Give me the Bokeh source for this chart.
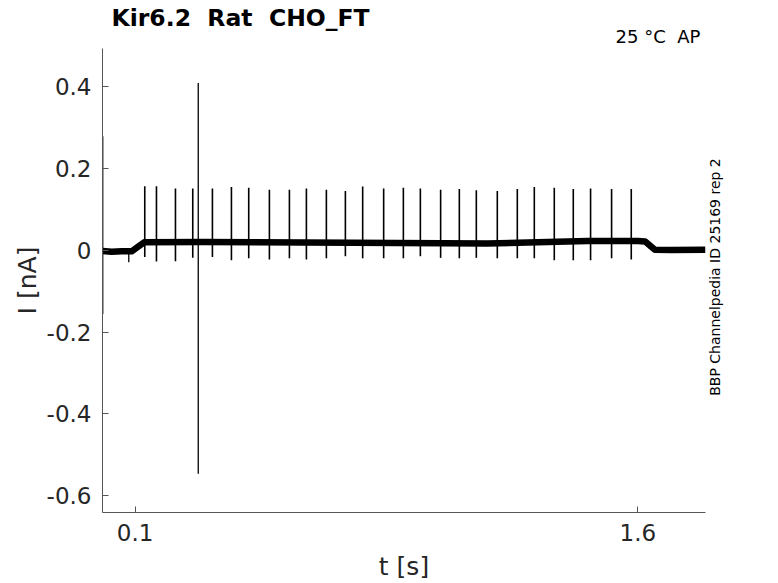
import numpy as np
from bokeh.plotting import figure
from bokeh.layouts import column, row
from bokeh.models import Range1d, Label, FixedTicker, CustomJSTickFormatter
from bokeh.embed import file_html
from bokeh.resources import INLINE

# ---------------- data ----------------
title_text = "Kir6.2 \u00a0Rat \u00a0CHO_FT"
cond_text = "25 °C \u00a0AP"
source_text = "BBP Channelpedia ID 25169 rep 2"
x_label = "t [s]"
y_label = "I [nA]"
x_ticks = [0.1, 1.6]
y_ticks = [-0.6, -0.4, -0.2, 0.0, 0.2, 0.4]

# holding-current baseline (centre of the noise band), time in s, current in nA
base_t = [0.003, 0.03, 0.06, 0.09, 0.105, 0.127, 0.30, 0.75, 1.15, 1.45, 1.60, 1.622, 1.651, 1.70, 1.802]
base_i = [-0.002, -0.004, -0.003, -0.003, 0.006, 0.019, 0.020, 0.018, 0.016, 0.022, 0.022, 0.021, 0.001, 0.000, 0.001]

# action-potential-clamp spikes: time, peak, trough
spike_t = [0.1289, 0.1638, 0.2205, 0.2721, 0.3308, 0.3875, 0.4391, 0.5008, 0.5605,
           0.6112, 0.6708, 0.7275, 0.7791, 0.8417, 0.9005, 0.9512, 1.0117, 1.0675,
           1.1182, 1.1808, 1.2405, 1.2912, 1.3508, 1.4075, 1.4591, 1.5218, 1.5805]
spike_hi = [0.156, 0.156, 0.150, 0.150, 0.150, 0.154, 0.152, 0.147, 0.147,
            0.150, 0.147, 0.144, 0.155, 0.150, 0.152, 0.150, 0.147, 0.149,
            0.146, 0.144, 0.149, 0.154, 0.152, 0.149, 0.150, 0.149, 0.149]
spike_lo = [-0.017, -0.028, -0.027, -0.019, -0.017, -0.025, -0.020, -0.023, -0.020,
            -0.023, -0.020, -0.015, -0.020, -0.020, -0.020, -0.015, -0.019, -0.020,
            -0.019, -0.020, -0.020, -0.020, -0.025, -0.025, -0.025, -0.020, -0.023]

# transients / artefacts: time, top, bottom
art_t = [0.0035, 0.0812, 0.2885]
art_hi = [0.278, -0.002, 0.408]
art_lo = [-0.156, -0.030, -0.546]

x_start, x_end = 0.0028, 1.802
y_start, y_end = -0.6405, 0.492

# ---------------- layout sizes ----------------
FONT = "DejaVu Sans"
TXT = "#262626"
W, H = 778, 583
HEAD_H = 48
MAIN_W = 708
MAIN_H = H - HEAD_H
SIDE_W = W - MAIN_W


def blank(width, height):
    f = figure(width=width, height=height, output_backend="svg", toolbar_location=None,
               x_axis_location=None, y_axis_location=None,
               x_range=Range1d(0, 1), y_range=Range1d(0, 1), min_border=0)
    f.outline_line_color = None
    f.grid.visible = False
    f.background_fill_color = "white"
    f.border_fill_color = "white"
    return f


# ---------------- header with the titles ----------------
head = blank(W, HEAD_H)
head.add_layout(Label(x=111, y=30.5, x_units="screen", y_units="screen",
                      text=title_text, text_font=FONT, text_font_size="23.5px",
                      text_font_style="bold", text_color="black",
                      text_align="left", text_baseline="alphabetic"))
head.add_layout(Label(x=615, y=12.3, x_units="screen", y_units="screen",
                      text=cond_text, text_font=FONT, text_font_size="18px",
                      text_color="black", text_align="left", text_baseline="alphabetic"))

# ---------------- main plot ----------------
p = figure(width=MAIN_W, height=MAIN_H, output_backend="svg", toolbar_location=None,
           x_range=Range1d(x_start, x_end), y_range=Range1d(y_start, y_end),
           min_border_left=102, min_border_right=3, min_border_top=0, min_border_bottom=71)
p.title = None
p.outline_line_color = None
p.grid.visible = False
p.background_fill_color = "white"
p.border_fill_color = "white"

for ax in (p.xaxis[0], p.yaxis[0]):
    ax.axis_line_color = "#555555"
    ax.axis_line_width = 1
    ax.major_tick_line_color = "#555555"
    ax.major_tick_in = 6
    ax.major_tick_out = 0
    ax.minor_tick_line_color = None
    ax.major_label_text_font = FONT
    ax.major_label_text_font_size = "23px"
    ax.major_label_text_color = TXT
    ax.axis_label_text_font = FONT
    ax.axis_label_text_font_size = "25px"
    ax.axis_label_text_font_style = "normal"
    ax.axis_label_text_color = TXT

p.xaxis[0].ticker = FixedTicker(ticks=x_ticks)
p.yaxis[0].ticker = FixedTicker(ticks=y_ticks)
p.xaxis[0].formatter = CustomJSTickFormatter(code="return tick.toFixed(1);")
p.yaxis[0].formatter = CustomJSTickFormatter(
    code="return Math.abs(tick) < 1e-9 ? '0' : tick.toFixed(1);")
p.xaxis[0].major_label_standoff = 11
p.yaxis[0].major_label_standoff = 11
p.xaxis[0].axis_label = x_label
p.yaxis[0].axis_label = y_label
p.xaxis[0].axis_label_standoff = 8
p.yaxis[0].axis_label_standoff = 2

p.line(base_t, base_i, line_color="black", line_width=6.5, line_join="round")
p.segment(x0=spike_t, y0=spike_lo, x1=spike_t, y1=spike_hi,
          line_color="black", line_width=1.6)
p.segment(x0=art_t, y0=art_lo, x1=art_t, y1=art_hi,
          line_color="black", line_width=1.3)

# ---------------- side strip with the source note ----------------
side = blank(SIDE_W, MAIN_H)
side.add_layout(Label(x=6, y=235.5, x_units="screen", y_units="screen",
                      text=source_text, text_font=FONT, text_font_size="14px",
                      text_color="black", text_align="center", text_baseline="alphabetic",
                      angle=np.pi / 2))

layout = column(head, row(p, side, spacing=0), spacing=0)
open("out.html", "w").write(file_html(layout, INLINE))
